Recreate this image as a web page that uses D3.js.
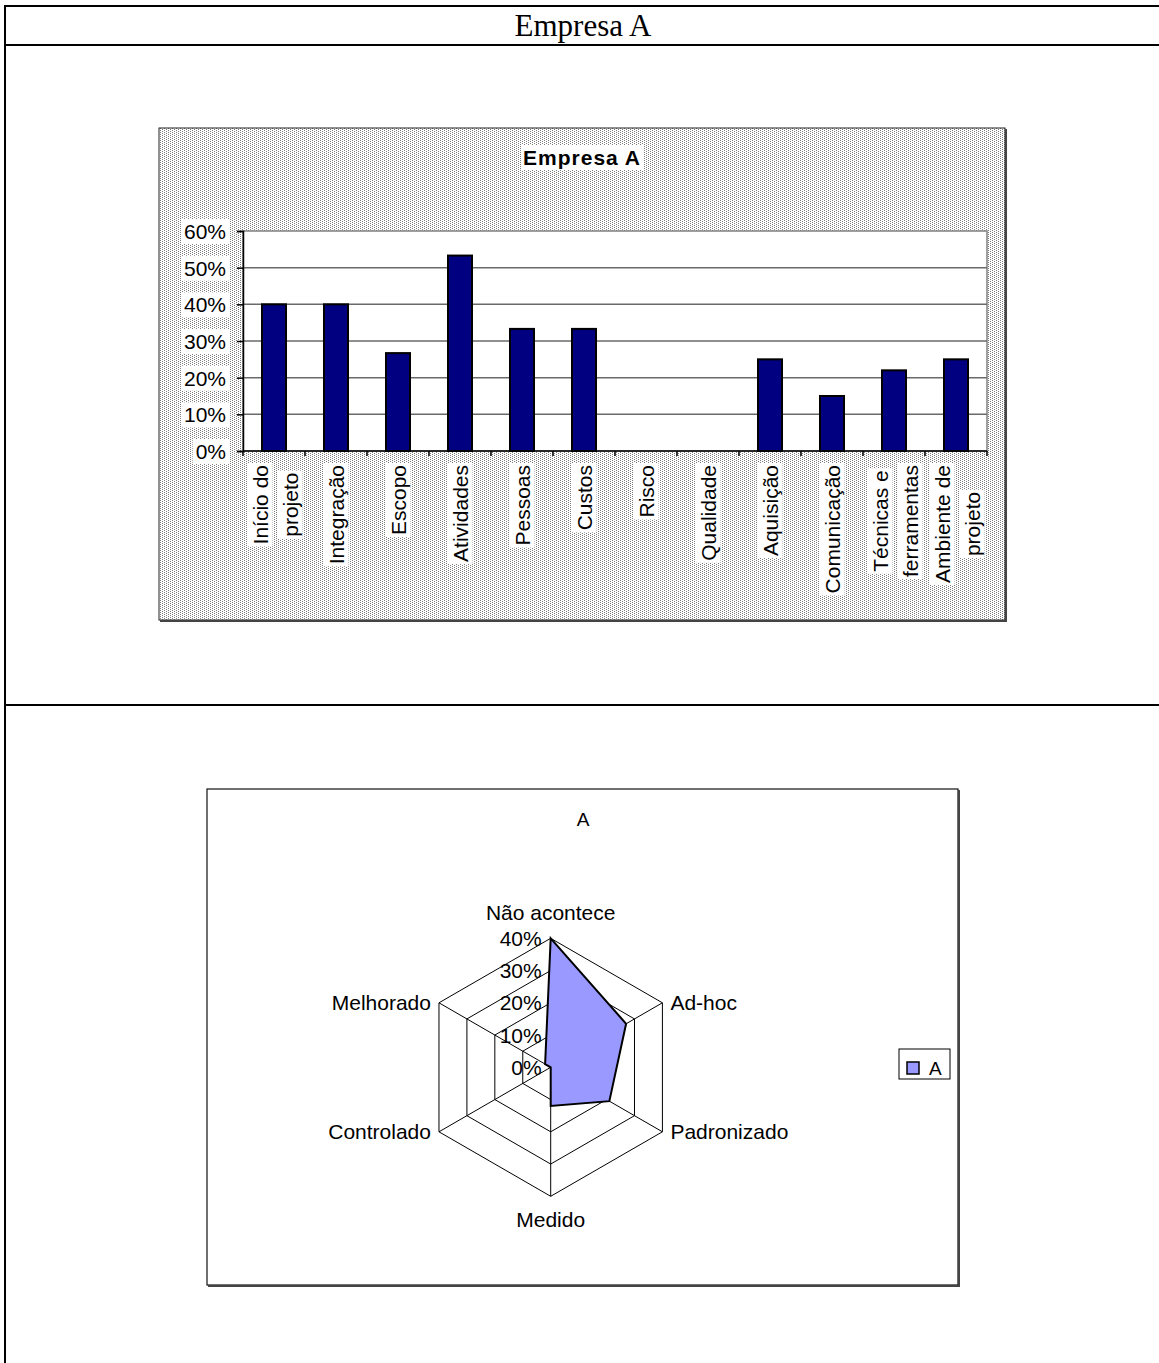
<!DOCTYPE html>
<html>
<head>
<meta charset="utf-8">
<script src="https://cdn.jsdelivr.net/npm/d3@7"></script>
<style>
  body { margin: 0; background: #fff; }
  svg { display: block; }
</style>
</head>
<body>
<svg id="page" width="1159" height="1363"></svg>
<script>
// Bar chart: share of practices per knowledge area
const categories = ["Início do\nprojeto", "Integração", "Escopo", "Atividades", "Pessoas", "Custos",
                    "Risco", "Qualidade", "Aquisição", "Comunicação", "Técnicas e\nferramentas", "Ambiente de\nprojeto"];
const shares = [0.40, 0.40, 0.267, 0.533, 0.333, 0.333, 0, 0, 0.25, 0.15, 0.22, 0.25];
const yTicks = [0, 0.1, 0.2, 0.3, 0.4, 0.5, 0.6];

// Radar chart: maturity level distribution
const levels = ["Não acontece", "Ad-hoc", "Padronizado", "Medido", "Controlado", "Melhorado"];
const levelShares = [0.40, 0.27, 0.21, 0.12, 0, 0.02];
const radarTicks = [0, 0.1, 0.2, 0.3, 0.4];
const seriesName = "A";

const SANS = "'Liberation Sans', Arial, sans-serif";
const SERIF = "'Liberation Serif', 'Times New Roman', serif";
const svg = d3.select("#page");

// ---------- page table ----------
const table = svg.append("g").attr("stroke", "#000").attr("stroke-width", 2);
table.append("line").attr("x1", 5).attr("x2", 1159).attr("y1", 6).attr("y2", 6);
table.append("line").attr("x1", 5).attr("x2", 1159).attr("y1", 45).attr("y2", 45);
table.append("line").attr("x1", 5).attr("x2", 1159).attr("y1", 705).attr("y2", 705);
table.append("line").attr("x1", 5).attr("x2", 5).attr("y1", 5).attr("y2", 1363);

svg.append("text")
  .attr("x", 583).attr("y", 36)
  .attr("text-anchor", "middle")
  .attr("font-family", SERIF).attr("font-size", 31)
  .text("Empresa A");

// ---------- bar chart ----------
const defs = svg.append("defs");
const pat = defs.append("pattern").attr("id", "dots")
  .attr("patternUnits", "userSpaceOnUse").attr("width", 4).attr("height", 2);
pat.append("rect").attr("width", 4).attr("height", 2).attr("fill", "#fff");
pat.append("rect").attr("x", 0).attr("y", 0).attr("width", 1).attr("height", 1).attr("fill", "#7c7c7c");
pat.append("rect").attr("x", 2).attr("y", 1).attr("width", 1).attr("height", 1).attr("fill", "#7c7c7c");

const frame = { x0: 159, y0: 128, x1: 1005, y1: 620 };
const bar = svg.append("g");
bar.append("rect")
  .attr("x", frame.x0).attr("y", frame.y0)
  .attr("width", frame.x1 - frame.x0).attr("height", frame.y1 - frame.y0)
  .attr("fill", "url(#dots)").attr("stroke", "#222").attr("stroke-width", 1);
bar.append("path")
  .attr("d", `M${frame.x0 + 1},${frame.y1 + 1}H${frame.x1 + 1}V${frame.y0 + 1}`)
  .attr("fill", "none").attr("stroke", "#444").attr("stroke-width", 2);

const plot = { left: 243, right: 987, top: 231, bottom: 451 };
const x = d3.scaleBand().domain(categories)
  .range([plot.left, plot.right]).paddingInner(0.613).paddingOuter(0.3065);
const y = d3.scaleLinear().domain([0, 0.6]).range([plot.bottom, plot.top]);

bar.append("rect")
  .attr("x", plot.left).attr("y", plot.top)
  .attr("width", plot.right - plot.left).attr("height", plot.bottom - plot.top)
  .attr("fill", "#fff").attr("stroke", "#808080").attr("stroke-width", 1.5);

bar.append("g").selectAll("line").data(yTicks.filter(d => d > 0 && d < 0.6)).join("line")
  .attr("x1", plot.left).attr("x2", plot.right)
  .attr("y1", d => y(d)).attr("y2", d => y(d))
  .attr("stroke", "#6a6a6a").attr("stroke-width", 1.5);

// white boxes behind labels, sized from the rendered text
function backdrop(sel, pad) {
  sel.each(function () {
    const b = this.getBBox();
    d3.select(this.parentNode).insert("rect", () => this)
      .attr("x", b.x - pad).attr("y", b.y - 1)
      .attr("width", b.width + pad * 2).attr("height", b.height + 2)
      .attr("fill", "#fff");
  });
}

// y axis
const yAxis = bar.append("g").attr("transform", `translate(${plot.left},0)`)
  .call(d3.axisLeft(y).tickValues(yTicks).tickFormat(d3.format(".0%")).tickSize(6).tickPadding(11));
yAxis.select(".domain").attr("stroke", "#000").attr("stroke-width", 1.5);
yAxis.selectAll(".tick line").attr("stroke", "#000").attr("stroke-width", 1.5);
yAxis.selectAll(".tick text")
  .attr("font-family", SANS).attr("font-size", 21).attr("fill", "#000")
  .attr("dy", "0.36em");
yAxis.selectAll(".tick").each(function () {
  const t = d3.select(this).select("text");
  backdrop(t, 3);
});

// bars
bar.append("g").selectAll("rect").data(categories).join("rect")
  .attr("x", d => x(d)).attr("width", x.bandwidth())
  .attr("y", (d, i) => y(shares[i]))
  .attr("height", (d, i) => plot.bottom - y(shares[i]))
  .attr("fill", "#000080").attr("stroke", "#000").attr("stroke-width", 2)
  .attr("display", (d, i) => shares[i] > 0 ? null : "none");

// x axis: line and ticks at category boundaries
const xAxisG = bar.append("g");
xAxisG.append("line").attr("x1", plot.left).attr("x2", plot.right)
  .attr("y1", plot.bottom).attr("y2", plot.bottom)
  .attr("stroke", "#000").attr("stroke-width", 1.5);
const bounds = categories.map(c => x(c) + x.bandwidth() / 2 - x.step() / 2).concat([plot.right]);
xAxisG.selectAll("line.tk").data(bounds).join("line").attr("class", "tk")
  .attr("x1", d => d).attr("x2", d => d)
  .attr("y1", plot.bottom).attr("y2", plot.bottom + 5)
  .attr("stroke", "#000").attr("stroke-width", 1.5);

// rotated category labels, block anchored at the top, lines centred
const labelTop = 465;
const lineGap = 30;
const labG = bar.append("g");
categories.forEach(c => {
  const lines = c.split("\n");
  const g = labG.append("g");
  const texts = lines.map((ln, k) => g.append("text")
    .attr("font-family", SANS).attr("font-size", 21).attr("fill", "#000")
    .attr("text-anchor", "middle")
    .text(ln));
  const w = d3.max(texts, t => t.node().getComputedTextLength());
  const cx = x(c) + x.bandwidth() / 2 + (lines.length > 1 ? 1 : 0);
  g.attr("transform", `translate(${cx},${labelTop}) rotate(-90)`);
  texts.forEach((t, k) => {
    const off = (k - (lines.length - 1) / 2) * lineGap;
    t.attr("x", -w / 2).attr("y", off).attr("dy", "0.36em");
  });
  texts.forEach(t => backdrop(t, 2));
});

// chart title
const bt = bar.append("text")
  .attr("x", 582).attr("y", 165)
  .attr("text-anchor", "middle")
  .attr("font-family", SANS).attr("font-size", 21).attr("font-weight", "bold")
  .attr("letter-spacing", 1)
  .text("Empresa A");
backdrop(bt, 2);

// ---------- radar chart ----------
const rf = { x0: 207, y0: 789, x1: 958, y1: 1285 };
const radar = svg.append("g");
radar.append("rect")
  .attr("x", rf.x0).attr("y", rf.y0)
  .attr("width", rf.x1 - rf.x0).attr("height", rf.y1 - rf.y0)
  .attr("fill", "#fff").attr("stroke", "#111").attr("stroke-width", 1.2);
radar.append("path")
  .attr("d", `M${rf.x0 + 1},${rf.y1 + 1}H${rf.x1 + 1}V${rf.y0 + 1}`)
  .attr("fill", "none").attr("stroke", "#444").attr("stroke-width", 2);

radar.append("text")
  .attr("x", 583).attr("y", 826)
  .attr("text-anchor", "middle")
  .attr("font-family", SANS).attr("font-size", 19)
  .text(seriesName);

const cx = 550.7, cy = 1067.3, R = 129;
const r = d3.scaleLinear().domain([0, 0.4]).range([0, R]);
const ang = d3.scaleLinear().domain([0, levels.length]).range([0, 2 * Math.PI]);
const pt = (i, v) => [cx + r(v) * Math.sin(ang(i)), cy - r(v) * Math.cos(ang(i))];

const rg = radar.append("g").attr("fill", "none").attr("stroke", "#000").attr("stroke-width", 1);
rg.selectAll("path.ring").data(radarTicks.filter(d => d > 0)).join("path").attr("class", "ring")
  .attr("d", t => "M" + levels.map((l, i) => pt(i, t).join(",")).join("L") + "Z");
rg.selectAll("line.spoke").data(levels).join("line").attr("class", "spoke")
  .attr("x1", cx).attr("y1", cy)
  .attr("x2", (d, i) => pt(i, 0.4)[0]).attr("y2", (d, i) => pt(i, 0.4)[1]);

const area = d3.lineRadial()
  .angle((d, i) => ang(i)).radius(d => r(d))
  .curve(d3.curveLinearClosed);
radar.append("path")
  .attr("transform", `translate(${cx},${cy})`)
  .attr("d", area(levelShares))
  .attr("fill", "#9999ff").attr("stroke", "#000").attr("stroke-width", 2)
  .attr("stroke-linejoin", "miter");

radar.append("g").selectAll("text").data(radarTicks).join("text")
  .attr("x", cx - 9).attr("y", d => cy - r(d)).attr("dy", "0.36em")
  .attr("text-anchor", "end")
  .attr("font-family", SANS).attr("font-size", 21)
  .text(d3.format(".0%"));

radar.append("g").selectAll("text").data(levels).join("text")
  .attr("font-family", SANS).attr("font-size", 21)
  .each(function (d, i) {
    const [px, py] = pt(i, 0.4);
    const s = Math.sin(ang(i)), c = Math.cos(ang(i));
    const t = d3.select(this);
    if (Math.abs(s) < 1e-6) {
      t.attr("text-anchor", "middle").attr("x", px)
       .attr("y", c > 0 ? py - 26 : py + 23).attr("dy", "0.36em");
    } else {
      t.attr("text-anchor", s > 0 ? "start" : "end")
       .attr("x", px + (s > 0 ? 8 : -8)).attr("y", py).attr("dy", "0.36em");
    }
  })
  .text(d => d);

// legend
const lg = radar.append("g");
lg.append("rect").attr("x", 899).attr("y", 1049).attr("width", 51).attr("height", 30)
  .attr("fill", "#fff").attr("stroke", "#000").attr("stroke-width", 1);
lg.append("rect").attr("x", 907).attr("y", 1062).attr("width", 12).attr("height", 12)
  .attr("fill", "#9999ff").attr("stroke", "#000").attr("stroke-width", 1.5);
lg.append("text").attr("x", 929).attr("y", 1075)
  .attr("font-family", SANS).attr("font-size", 19)
  .text(seriesName);
</script>
</body>
</html>
